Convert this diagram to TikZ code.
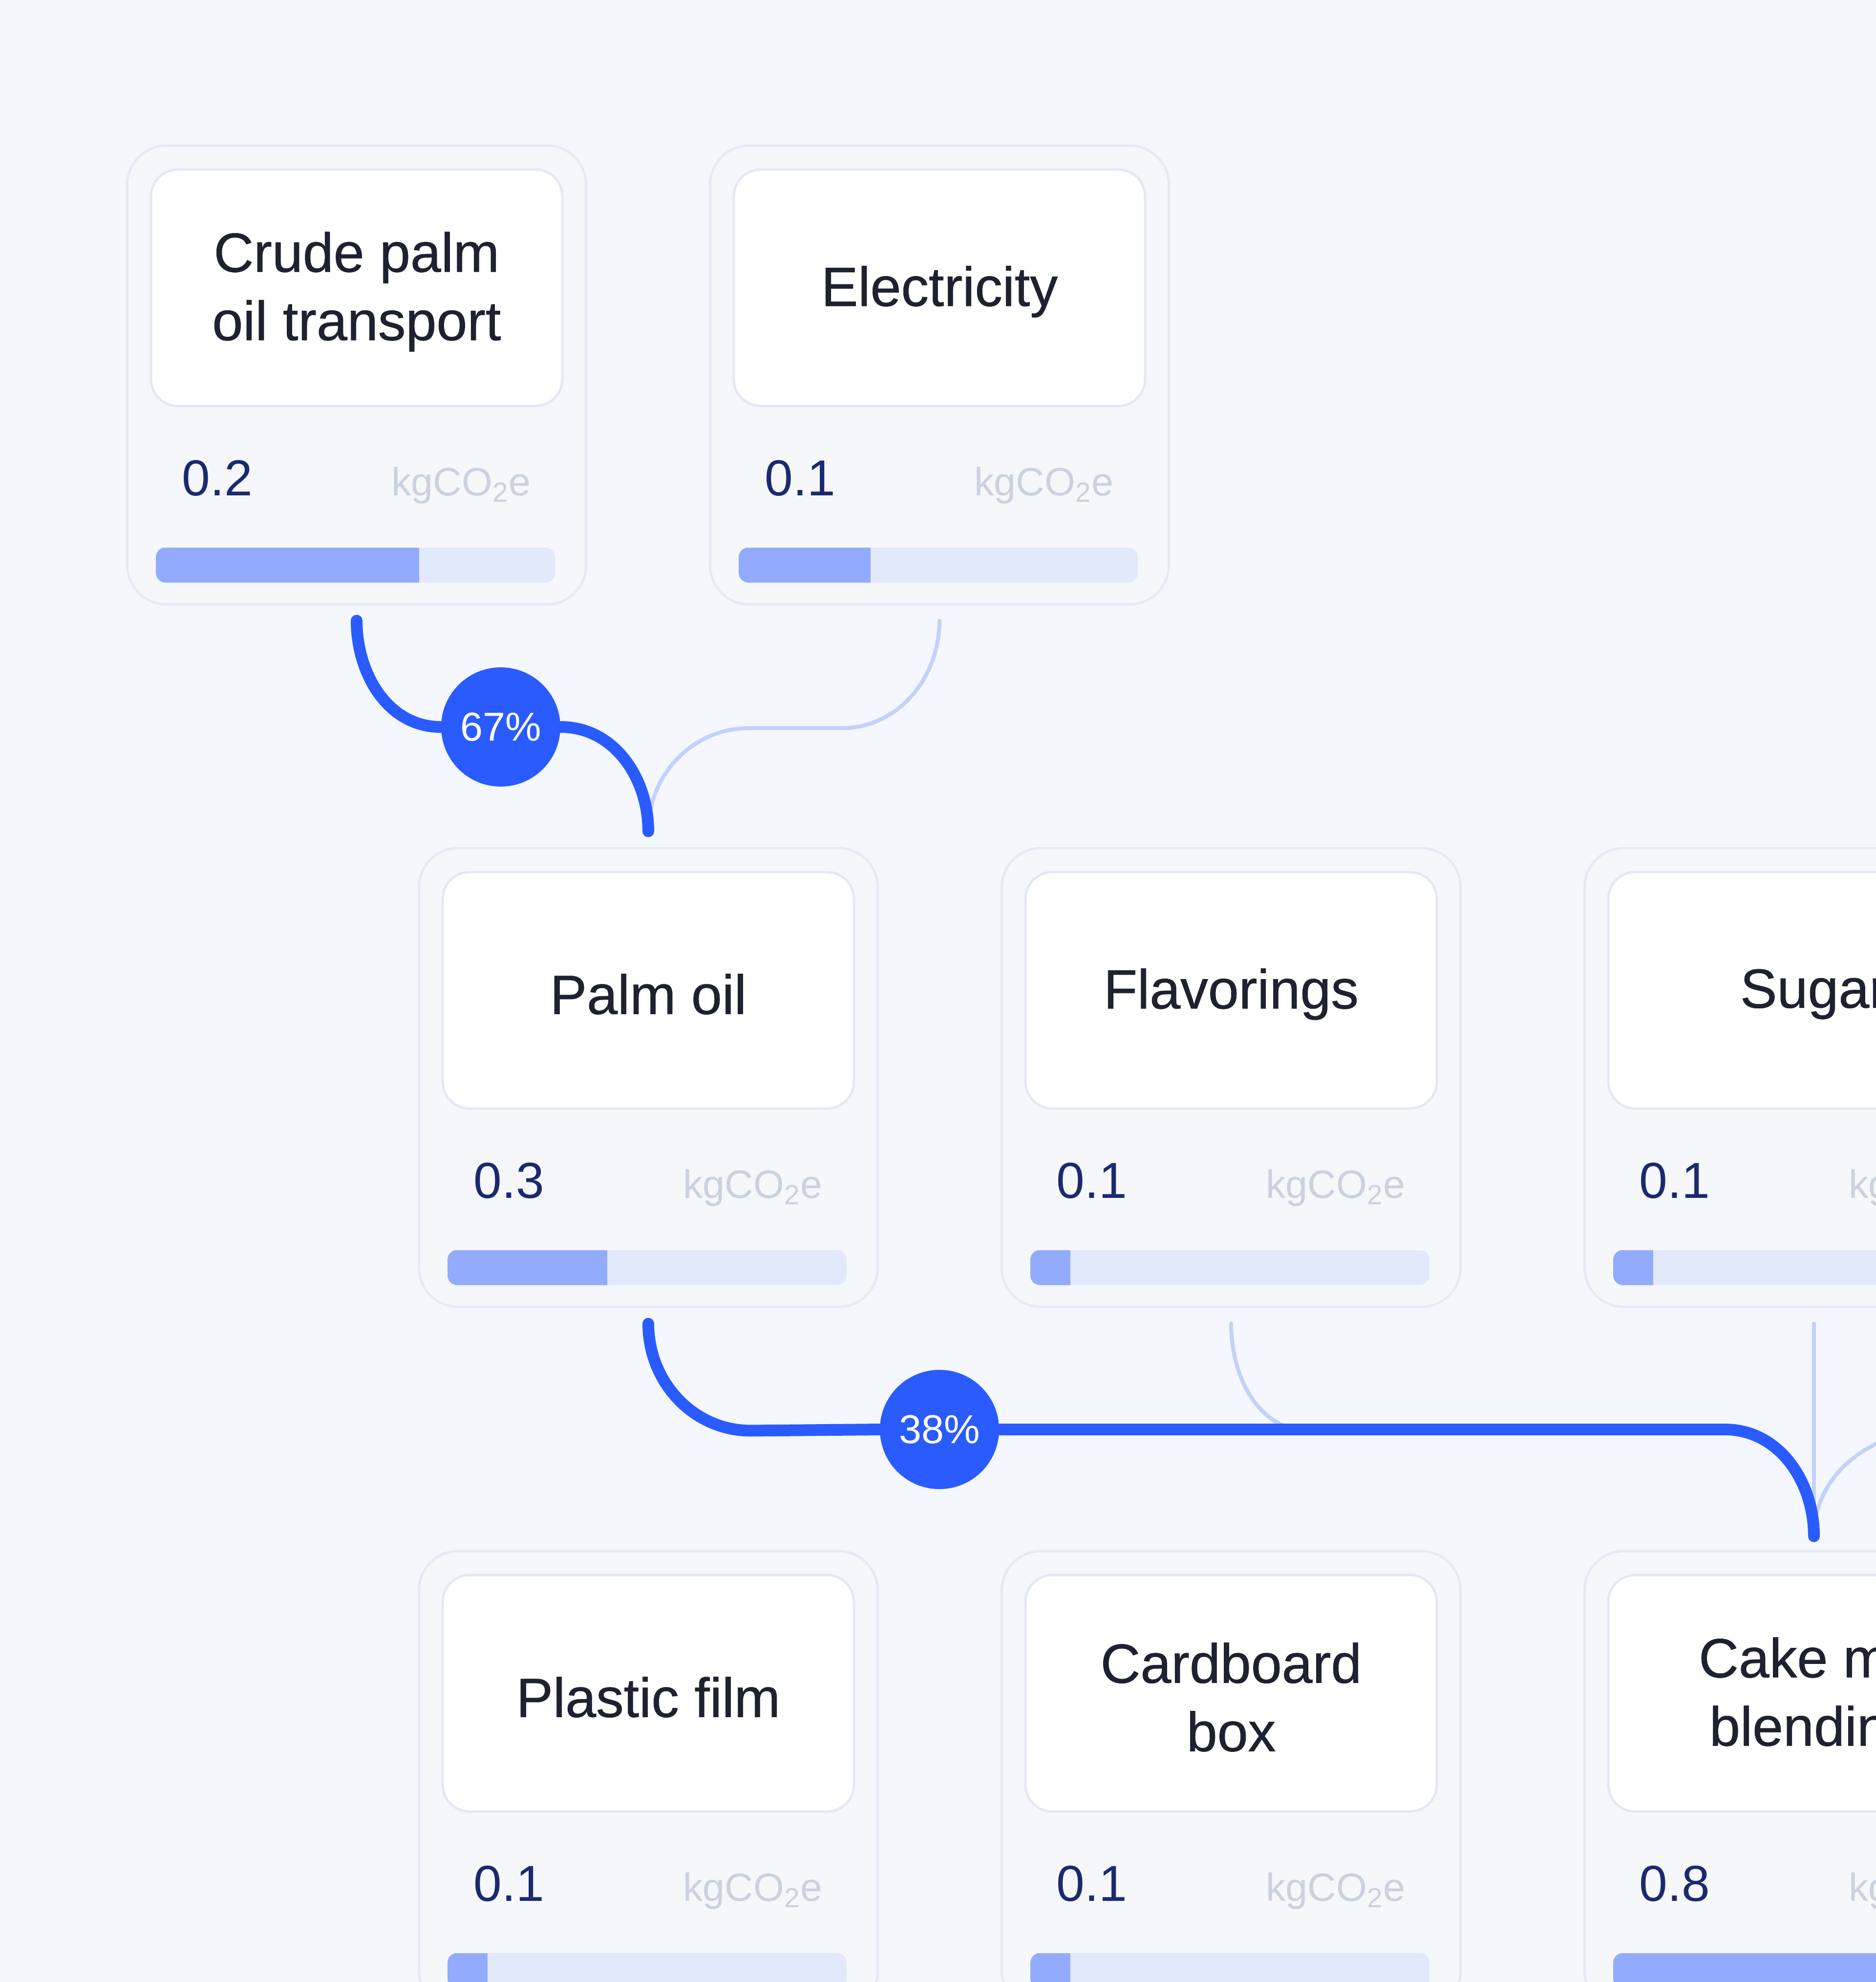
\documentclass[tikz,border=0pt]{standalone}
\usepackage{fontspec}
\setmainfont{Liberation Sans}
\newfontfamily\titlefont[FakeBold=0.6]{Liberation Sans}
\usetikzlibrary{positioning}

\definecolor{bgcol}{HTML}{F4F7FE}
\definecolor{cardfill}{HTML}{F5F7FB}
\definecolor{cardline}{HTML}{E6EAF3}
\definecolor{boxline}{HTML}{E3E8F1}
\definecolor{titlecol}{HTML}{1E2230}
\definecolor{valcol}{HTML}{1B2A6E}
\definecolor{unitcol}{HTML}{CAD2E0}
\definecolor{barbg}{HTML}{E1E9FB}
\definecolor{barfg}{HTML}{93ABFC}
\definecolor{flowcol}{HTML}{2A5BFF}
\definecolor{thincol}{HTML}{C3D1FB}

\tikzstyle{card} = [rectangle, draw=cardline, fill=cardfill, line width=1.4pt, rounded corners=0.8cm, minimum width=9.39cm, minimum height=9.39cm, inner sep=0pt]
\tikzstyle{namebox} = [rectangle, draw=boxline, fill=white, line width=1.4pt, rounded corners=0.55cm, minimum width=8.42cm, minimum height=4.84cm]
\tikzstyle{titletext} = [align=center, inner sep=0pt, text=titlecol, font=\titlefont\fontsize{32.2}{39.8}\selectfont]
\tikzstyle{valuetext} = [inner sep=0pt, text=valcol, font=\fontsize{29.5}{32}\selectfont]
\tikzstyle{unittext} = [inner sep=0pt, text=unitcol, font=\fontsize{23}{26}\selectfont]
\tikzstyle{share} = [circle, fill=flowcol, minimum size=2.44cm, inner sep=0pt, text=white, font=\fontsize{23.5}{26}\selectfont]
\tikzstyle{thickflow} = [line width=0.24cm, draw=flowcol, line cap=round]
\tikzstyle{thinflow} = [line width=0.08cm, draw=thincol, line cap=round]

% name, x, y, title, value, bar fraction
\newcommand{\flowcard}[6]{%
  \node[card] (#1) at (#2,#3) {};
  \node[namebox, anchor=north] (#1-name) at ([yshift=-0.49cm]#1.north) {};
  \node[titletext] (#1-title) at ([yshift=-0.08cm]#1-name.center) {#4};
  \node[valuetext, anchor=base west] (#1-val) at ([xshift=1.14cm,yshift=-7.19cm]#1.north west) {#5};
  \node[unittext, anchor=base east] (#1-unit) at ([xshift=-1.15cm,yshift=-7.19cm]#1.north east) {kgCO\textsubscript{2}e};
  \begin{scope}
    \clip[rounded corners=0.2cm] ([xshift=0.61cm,yshift=-8.25cm]#1.north west) rectangle ++(8.17,-0.72);
    \fill[barbg] ([xshift=0.61cm,yshift=-8.25cm]#1.north west) rectangle ++(8.17,-0.72);
    \fill[barfg] ([xshift=0.61cm,yshift=-8.25cm]#1.north west) rectangle ++({#6*8.17},-0.72);
  \end{scope}
}

\begin{document}
\begin{tikzpicture}
\useasboundingbox (0,0) rectangle (38.40,-40.57);
\clip (0,0) rectangle (38.40,-40.57);
\fill[bgcol] (0,0) rectangle (38.40,-40.57);

% cards
\flowcard{cpot}{7.30}{-7.675}{Crude palm\\oil transport}{0.2}{0.66}
\flowcard{elec}{19.23}{-7.675}{Electricity}{0.1}{0.33}
\flowcard{palmoil}{13.27}{-22.055}{Palm oil}{0.3}{0.40}
\flowcard{flav}{25.20}{-22.055}{Flavorings}{0.1}{0.10}
\flowcard{sugar}{37.13}{-22.055}{Sugar}{0.1}{0.10}
\flowcard{plastic}{13.27}{-36.445}{Plastic film}{0.1}{0.10}
\flowcard{cardboard}{25.20}{-36.445}{Cardboard\\box}{0.1}{0.10}
\flowcard{cakemix}{37.13}{-36.445}{Cake mix\\blending}{0.8}{0.80}

% shares
\node[share] (s67) at (10.25,-14.88) {67\%};
\node[share] (s38) at (19.23,-29.26) {38\%};
\coordinate (offright) at (39.7,-29.26);

% thin flows
\draw[thinflow] ([yshift=-0.31cm]elec.south) to[out=-90,in=0] ++(-2.0,-2.2) -- ++(-1.9,0) to[out=180,in=90] ([yshift=0.32cm]palmoil.north);
\draw[thinflow] ([yshift=-0.32cm]flav.south) to[out=-90,in=180] ++(1.6,-2.19) -- ++(8.5,0) to[out=0,in=90] ([yshift=0.28cm]cakemix.north);
\draw[thinflow] ([yshift=-0.32cm]sugar.south) -- ([yshift=0.28cm]cakemix.north);
\draw[thinflow] (offright) to[out=180,in=90] ([yshift=0.28cm]cakemix.north);

% main flows
\draw[thickflow] ([yshift=-0.31cm]cpot.south) to[out=-90,in=180] (s67.west);
\draw[thickflow] (s67.east) to[out=0,in=90] ([yshift=0.32cm]palmoil.north);
\draw[thickflow] ([yshift=-0.32cm]palmoil.south) to[out=-90,in=180] ++(2.1,-2.19) -- (s38.west);
\draw[thickflow] (s38.east) -- ++(14.85,0) to[out=0,in=90] ([yshift=0.28cm]cakemix.north);
\end{tikzpicture}
\end{document}
